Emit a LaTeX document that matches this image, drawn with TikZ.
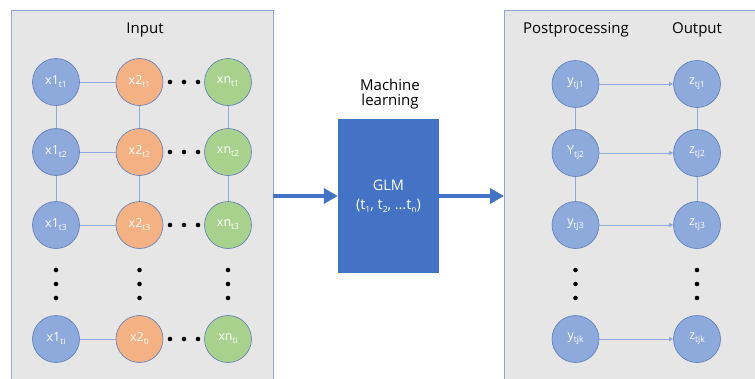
\documentclass[tikz,border=0pt]{standalone}
\usepackage{fontspec}
\setmainfont{Open Sans}
\usetikzlibrary{arrows.meta}
\definecolor{panelbg}{HTML}{E7E6E6}
\definecolor{panelbd}{HTML}{8FA6CF}
\definecolor{cblue}{HTML}{8EA9DB}
\definecolor{corange}{HTML}{F4B183}
\definecolor{cgreen}{HTML}{A9D18E}
\definecolor{cbd}{HTML}{5B7CB8}
\definecolor{mainblue}{HTML}{4472C4}
\definecolor{linkblue}{HTML}{8EA9DB}
\newcommand\lsub[1]{\raisebox{-0.45ex}{\fontsize{8.5}{8.5}\selectfont #1}}
\tikzset{
  panel/.style={draw=panelbd, line width=1pt, fill=panelbg},
  nodebase/.style={circle, minimum size=47pt, inner sep=0pt, draw=cbd, line width=0.6pt, text=white, font=\fontsize{12.5}{13}\selectfont},
  bnode/.style={nodebase, fill=cblue},
  onode/.style={nodebase, fill=corange},
  gnode/.style={nodebase, fill=cgreen},
  link/.style={draw=linkblue, line width=0.8pt},
  linkarrow/.style={link, -{Triangle[length=4pt,width=4pt]}},
  bigarrow/.style={draw=mainblue, line width=3.5pt, -{Triangle[length=14pt,width=15pt]}},
  title/.style={font=\fontsize{15}{18}\selectfont, text=black},
  dotmark/.style={circle, fill=black, inner sep=0pt, minimum size=4.6pt},
}
\begin{document}
\begin{tikzpicture}[x=1pt,y=-1pt]
\useasboundingbox (0,0) rectangle (755,378);
\clip (0,0) rectangle (755,378);
\fill[white] (0,0) rectangle (755,378);
% panels
\draw[panel] (11,10) rectangle (273,400);
\draw[panel] (504,10) rectangle (780,400);
% titles
\node[title] (tin) at (145,30) {Input};
\node[title] (tpost) at (576,30) {Postprocessing};
\node[title] (tout) at (697,30) {Output};
\node[title, align=center] (tml) at (390,94) {Machine\\[-3pt]learning};
% left grid
\foreach \r/\y/\s in {1/82/t1,2/152/t2,3/225/t3,4/339/ti}{
  \node[bnode] (a\r) at (56,\y) {x1\lsub{\s}};
  \node[onode] (b\r) at (139.5,\y) {x2\lsub{\s}};
  \node[gnode] (c\r) at (228,\y) {xn\lsub{\s}};
  \draw[link] (a\r) -- (b\r);
  \foreach \dx in {170,184,198} \node[dotmark] at (\dx,\y) {};
}
\foreach \col in {a,b,c}{
  \draw[link] (\col1) -- (\col2);
  \draw[link] (\col2) -- (\col3);
}
\foreach \dx in {56,139.5,228}{
  \foreach \dy in {270,284,298} \node[dotmark] at (\dx,\dy) {};
}
% machine learning box
\node[fill=mainblue, minimum width=101pt, minimum height=154pt, inner sep=0pt, text=white, align=center, font=\fontsize{14.5}{19}\selectfont] (glm) at (388.5,196) {GLM\\(t\lsub{1}, t\lsub{2}, \dots t\lsub{n})};
\coordinate (lpe) at (273,196);
\coordinate (rpe) at (504,196);
\draw[bigarrow] (lpe) -- (glm.west);
\draw[bigarrow] (glm.east) -- (rpe);
% right grid
\node[bnode] (y1) at (575.5,84) {y\lsub{tj1}};
\node[bnode] (y2) at (575.5,153) {Y\lsub{tj2}};
\node[bnode] (y3) at (575.5,225) {y\lsub{tj3}};
\node[bnode] (y4) at (575.5,339) {y\lsub{tjk}};
\node[bnode] (z1) at (697,84) {z\lsub{tj1}};
\node[bnode] (z2) at (697,153) {z\lsub{tj2}};
\node[bnode] (z3) at (697,225) {z\lsub{tj3}};
\node[bnode] (z4) at (697,339) {z\lsub{tjk}};
\foreach \r in {1,2,3,4} \draw[linkarrow] (y\r) -- (z\r);
\draw[link] (y1) -- (y2); \draw[link] (y2) -- (y3);
\draw[link] (z1) -- (z2); \draw[link] (z2) -- (z3);
\foreach \dx in {575.5,697}{
  \foreach \dy in {270,284,298} \node[dotmark] at (\dx,\dy) {};
}
\end{tikzpicture}
\end{document}
